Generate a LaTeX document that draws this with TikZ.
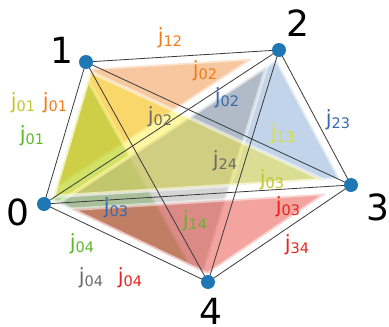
\documentclass[tikz,border=0pt]{standalone}
\usepackage{fontspec}
\setmainfont{DejaVu Sans}
\usetikzlibrary{calc}
\definecolor{vblue}{HTML}{1F77B4}
\definecolor{forange}{HTML}{ED7D1B}
\definecolor{fyellow}{HTML}{FEEB20}
\definecolor{fgreen}{HTML}{48A810}
\definecolor{fblue}{HTML}{6B98CA}
\definecolor{fgray}{HTML}{9A9A9A}
\definecolor{fred}{HTML}{E3251B}
\definecolor{lorange}{HTML}{EE7D1A}
\definecolor{lolive}{HTML}{C2C62E}
\definecolor{lyellow}{HTML}{E0E02A}
\definecolor{lgreen}{HTML}{5DB82B}
\definecolor{lblue}{HTML}{3869AE}
\definecolor{lgray}{HTML}{6B6B6B}
\definecolor{lred}{HTML}{E8231C}
\definecolor{edgec}{HTML}{3A3A3A}
\newcommand\insetd{7}
% inset triangle: offset every side inward by \insetd (homothety about the incentre)
\newcommand\mkface[4]{%
  \path (#2); \pgfgetlastxy{\ax}{\ay}%
  \path (#3); \pgfgetlastxy{\bx}{\by}%
  \path (#4); \pgfgetlastxy{\cx}{\cy}%
  \pgfmathsetmacro\la{veclen(\bx-\cx,\by-\cy)}%
  \pgfmathsetmacro\lb{veclen(\ax-\cx,\ay-\cy)}%
  \pgfmathsetmacro\lc{veclen(\ax-\bx,\ay-\by)}%
  \pgfmathsetmacro\per{\la+\lb+\lc}%
  \pgfmathsetmacro\ix{\la/\per*\ax+\lb/\per*\bx+\lc/\per*\cx}%
  \pgfmathsetmacro\iy{\la/\per*\ay+\lb/\per*\by+\lc/\per*\cy}%
  \pgfmathsetmacro\cr{abs((\bx-\ax)/100*(\cy-\ay)-(\by-\ay)/100*(\cx-\ax))}%
  \pgfmathsetmacro\rr{\cr/\per*100}%
  \pgfmathsetmacro\kk{(\rr-\insetd)/\rr}%
  \coordinate (ic) at (\ix pt,\iy pt);
  \filldraw[face, fill=#1] ($(ic)!\kk!(#2)$) -- ($(ic)!\kk!(#3)$) -- ($(ic)!\kk!(#4)$) -- cycle;}
\newcommand\jlab[1]{j\raisebox{-3pt}{\fontsize{14.5}{14.5}\selectfont #1}}
\tikzset{
  face/.style={fill opacity=0.42, draw=white, draw opacity=0.5, line width=3.5pt, line join=round},
  edge/.style={draw=edgec, line width=0.8pt},
  vertex/.style={circle, fill=vblue, inner sep=0pt, minimum size=14pt},
  vlabel/.style={font=\fontsize{36}{36}\selectfont, inner sep=0pt},
  jl/.style={font=\fontsize{21}{21}\selectfont, inner sep=0pt}
}
\begin{document}
\begin{tikzpicture}[x=1pt,y=-1pt]
\useasboundingbox (0,0) rectangle (389,327);
\coordinate (v0) at (44,204);
\coordinate (v1) at (86,62);
\coordinate (v2) at (279,50);
\coordinate (v3) at (351,185);
\coordinate (v4) at (208,282);
% faces
\mkface{forange}{v0}{v1}{v2}
\mkface{fgreen}{v0}{v1}{v4}
\mkface{fblue}{v0}{v2}{v3}
\mkface{fgray}{v0}{v2}{v4}
\mkface{fyellow}{v0}{v1}{v3}
\mkface{fred}{v0}{v3}{v4}
% edges
\foreach \a/\b in {v0/v1,v0/v2,v0/v3,v0/v4,v1/v2,v1/v3,v1/v4,v2/v3,v2/v4,v3/v4}
  \draw[edge] (\a) -- (\b);
% vertices
\node[vertex] (n0) at (v0) {};
\node[vertex] (n1) at (v1) {};
\node[vertex] (n2) at (v2) {};
\node[vertex] (n3) at (v3) {};
\node[vertex] (n4) at (v4) {};
\node[vlabel] (t0) at (18,212) {0};
\node[vlabel] (t1) at (62,50) {1};
\node[vlabel] (t2) at (298,23) {2};
\node[vlabel] (t3) at (378,207) {3};
\node[vlabel] (t4) at (211,311) {4};
% edge labels
\node[jl, text=lorange] (l12) at (170,38) {\jlab{12}};
\node[jl, text=lorange] (l02a) at (205,71) {\jlab{02}};
\node[jl, text=lolive] (l01a) at (23,103) {\jlab{01}};
\node[jl, text=lorange] (l01b) at (55,103) {\jlab{01}};
\node[jl, text=lgreen] (l01c) at (32,136) {\jlab{01}};
\node[jl, text=lgray] (l02b) at (160,117) {\jlab{02}};
\node[jl, text=lblue] (l02c) at (227,98) {\jlab{02}};
\node[jl, text=lblue] (l23) at (338,120) {\jlab{23}};
\node[jl, text=lyellow] (l13) at (283,134) {\jlab{13}};
\node[jl, text=lgray] (l24) at (225,161) {\jlab{24}};
\node[jl, text=lolive] (l03a) at (272,180) {\jlab{03}};
\node[jl, text=lred] (l03b) at (288,207) {\jlab{03}};
\node[jl, text=lblue] (l03c) at (116,208) {\jlab{03}};
\node[jl, text=lgreen] (l14) at (195,221) {\jlab{14}};
\node[jl, text=lred] (l34) at (297,245) {\jlab{34}};
\node[jl, text=lgreen] (l04a) at (82,244) {\jlab{04}};
\node[jl, text=lgray] (l04b) at (91,278) {\jlab{04}};
\node[jl, text=lred] (l04c) at (130,278) {\jlab{04}};
\end{tikzpicture}
\end{document}
